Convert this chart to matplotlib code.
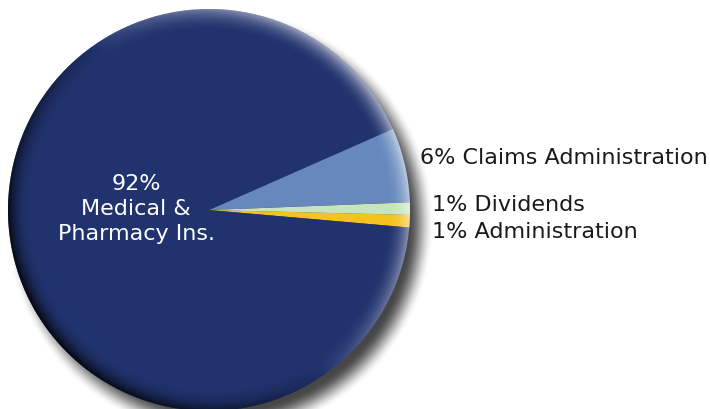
import numpy as np
import matplotlib as mpl
mpl.use('Agg')
import matplotlib.pyplot as plt

# spending split, listed counter-clockwise from just below 3 o'clock
labels = ["Administration", "Dividends", "Claims Administration", "Medical &\nPharmacy Ins."]
shares = [1, 1, 6, 92]
colors = ["#f5c21f", "#c8e4bb", "#6688bd", "#21336e"]

W, H = 710, 409
cx, cy, R = 209, 210, 201   # pie centre / radius in pixels (y down)

fig = plt.figure(figsize=(W / 100, H / 100), dpi=100)
ax = fig.add_axes([0, 0, 1, 1])

yy, xx = np.mgrid[0:H, 0:W] + 0.5

# soft drop shadow towards lower right
sx, sy, blur = cx + 11, cy + 13, 13.0
rs = np.hypot(xx - sx, yy - sy)
t = np.clip((R + blur - rs) / (2 * blur), 0, 1)
t = t * t * (3 - 2 * t)
shadow = np.zeros((H, W, 4))
shadow[..., :3] = 0.24
shadow[..., 3] = 0.95 * t
ax.imshow(shadow, extent=(0, W, 0, H), origin='upper', zorder=0, interpolation='bilinear')

ax.pie(shares, colors=colors, startangle=-5, counterclock=True,
       center=(cx, H - cy), radius=R, frame=True,
       wedgeprops=dict(linewidth=0, zorder=1))

# bevelled rim: light from the upper right, dark towards lower left
dx = xx - cx
dy = cy - yy
r = np.hypot(dx, dy) + 1e-9
inside = np.clip(R - r + 0.5, 0, 1)
ang = np.deg2rad(35)
dot = (dx * np.cos(ang) + dy * np.sin(ang)) / r
w = 24.0
rim = np.clip((r - (R - w)) / w, 0, 1) ** 2.2
dark = np.clip(-dot, 0, 1) ** 0.7 * rim * 0.88
light = np.clip(dot, 0, 1) ** 0.8 * rim * 0.6
shade = np.zeros((H, W, 4))
a = dark + light
shade[..., :3] = np.where(light > dark, 1.0, 0.0)[..., None]
shade[..., 3] = a * inside
ax.imshow(shade, extent=(0, W, 0, H), origin='upper', zorder=3, interpolation='bilinear')

ax.set_xlim(0, W)
ax.set_ylim(0, H)
ax.set_aspect('auto')
ax.axis('off')

font = 'DejaVu Sans'
fs = 16
ax.text(136, H - 209, "92%\nMedical &\nPharmacy Ins.", color='white', fontsize=fs,
        ha='center', va='center', linespacing=1.3, family=font, zorder=4)
ax.text(420, H - 158, "6% Claims Administration", color='#1a1a1a', fontsize=fs,
        ha='left', va='center', family=font, zorder=4)
ax.text(432, H - 205, "1% Dividends", color='#1a1a1a', fontsize=fs,
        ha='left', va='center', family=font, zorder=4)
ax.text(432, H - 232, "1% Administration", color='#1a1a1a', fontsize=fs,
        ha='left', va='center', family=font, zorder=4)

fig.savefig("out.png", dpi=100, facecolor='white')
